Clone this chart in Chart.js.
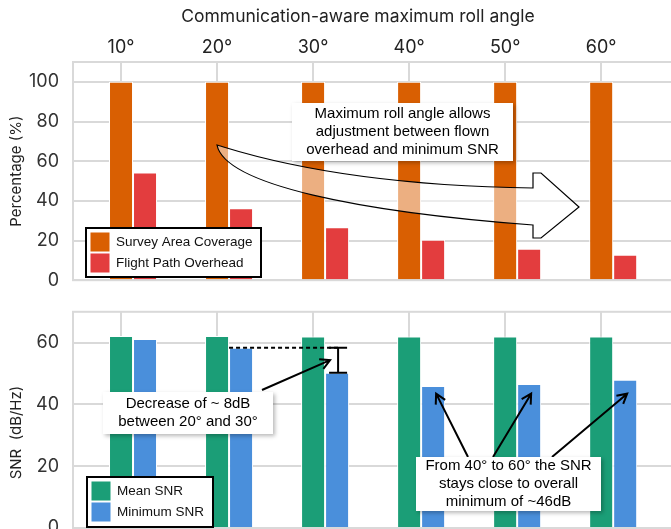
<!DOCTYPE html>
<html>
<head>
<meta charset="utf-8">
<script src="https://cdn.jsdelivr.net/npm/chart.js@4.4.1/dist/chart.umd.min.js"></script>
<style>
  html, body { margin: 0; padding: 0; background: #fff; overflow: hidden; }
  .panel { position: absolute; left: 0; width: 678px; }
  #top { top: 0; height: 305px; }
  #bottom { top: 287px; height: 270px; }
</style>
</head>
<body>
<div class="panel" id="top"><canvas id="coverageChart"></canvas></div>
<div class="panel" id="bottom"><canvas id="snrChart"></canvas></div>
<script>
// values
const rollAngles = [10, 20, 30, 40, 50, 60];
const surveyCoverage = [100, 100, 100, 100, 100, 100];
const flightOverhead = [54.3, 36.3, 26.7, 20.4, 15.9, 12.8];
const meanSnr = [62.2, 62.2, 62.0, 62.0, 62.0, 62.0];
const minSnr = [61.2, 58.4, 50.3, 46.0, 46.6, 48.0];
const percentTicks = [0, 20, 40, 60, 80, 100];
const snrTicks = [0, 20, 40, 60];

const ORANGE = '#D95F02';
const RED = '#E33D3E';
const GREEN = '#1B9E77';
const BLUE = '#4A8FDB';
const GRID = '#d9d9d9';
const NOTE_FONT = '15px "Liberation Sans", Arial, sans-serif';

Chart.defaults.font.family = 'Inter, "Noto Sans", sans-serif';
Chart.defaults.animation = false;

function points(values) {
    return rollAngles.map((a, i) => ({ x: a, y: values === null ? null : values[i] }));
}

function barSet(label, values, color) {
    return {
        label: label,
        data: points(values),
        backgroundColor: color,
        borderColor: '#fff',
        borderWidth: 1,
        categoryPercentage: 0.75,
        barPercentage: 1.0
    };
}

// empty slot on the left so the first series sits on the tick
function spacerSet() {
    return { label: '', data: points(null), backgroundColor: 'rgba(0,0,0,0)', categoryPercentage: 0.75, barPercentage: 1.0 };
}

function xAxis(position, showLabels) {
    return {
        type: 'linear',
        position: position,
        min: 5,
        max: 68,
        offset: false,
        grid: { color: GRID, lineWidth: 2, drawTicks: false, offset: false },
        border: { display: false },
        afterBuildTicks: (s) => { s.ticks = rollAngles.map(v => ({ value: v })); },
        afterFit: (s) => { s.height = showLabels ? 62 : 0; },
        ticks: {
            display: showLabels,
            padding: 4,
            color: '#222',
            font: { size: 18 },
            callback: (v) => v + '°'
        }
    };
}

function yAxis(max, tickList, titleText) {
    return {
        min: 0,
        max: max,
        grid: { color: GRID, lineWidth: 2, drawTicks: false },
        border: { display: false },
        afterBuildTicks: (s) => { s.ticks = tickList.map(v => ({ value: v })); },
        afterFit: (s) => { s.width = 73; },
        ticks: { padding: 14, color: '#333', font: { size: 18 } },
        title: { display: true, text: titleText, color: '#222', font: { size: 15 }, padding: { top: 7, bottom: 0 } }
    };
}

// plot frame
const frame = {
    id: 'frame',
    beforeDatasetsDraw(chart) {
        const a = chart.chartArea;
        const ctx = chart.ctx;
        ctx.save();
        ctx.strokeStyle = GRID;
        ctx.lineWidth = 2;
        ctx.strokeRect(a.left, a.top, a.right - a.left, a.bottom - a.top);
        ctx.restore();
    }
};

// axis heading above the top tick labels
const headline = {
    id: 'headline',
    afterDraw(chart, args, opts) {
        const ctx = chart.ctx;
        ctx.save();
        ctx.fillStyle = '#222';
        ctx.font = '17.5px Inter, "Noto Sans", sans-serif';
        ctx.textAlign = 'center';
        ctx.textBaseline = 'middle';
        ctx.fillText(opts.text, opts.x, opts.y);
        ctx.restore();
    }
};

// legend with black box, inside the plot
const boxLegend = {
    id: 'boxLegend',
    afterDraw(chart, args, opts) {
        const ctx = chart.ctx;
        const items = chart.data.datasets.filter(d => d.label);
        ctx.save();
        ctx.fillStyle = '#fff';
        ctx.fillRect(opts.x, opts.y, opts.w, opts.h);
        ctx.strokeStyle = '#000';
        ctx.lineWidth = 2;
        ctx.strokeRect(opts.x, opts.y, opts.w, opts.h);
        ctx.font = '13.5px "Liberation Sans", Arial, sans-serif';
        ctx.textBaseline = 'middle';
        items.forEach((d, i) => {
            const y = opts.y + 4.5 + i * 21;
            ctx.fillStyle = d.backgroundColor;
            ctx.fillRect(opts.x + 4.5, y, 19, 19);
            ctx.fillStyle = '#111';
            ctx.fillText(d.label, opts.x + 30, y + 10);
        });
        ctx.restore();
    }
};

function noteBox(ctx, x, y, w, h, lines, lineGap) {
    ctx.save();
    ctx.shadowColor = 'rgba(0,0,0,0.28)';
    ctx.shadowBlur = 4;
    ctx.shadowOffsetX = 1.5;
    ctx.shadowOffsetY = 2;
    ctx.fillStyle = '#fff';
    ctx.fillRect(x, y, w, h);
    ctx.restore();
    ctx.save();
    ctx.fillStyle = '#000';
    ctx.font = NOTE_FONT;
    ctx.textAlign = 'center';
    ctx.textBaseline = 'middle';
    const top = y + h / 2 - (lines.length - 1) * lineGap / 2;
    lines.forEach((t, i) => ctx.fillText(t, x + w / 2, top + i * lineGap));
    ctx.restore();
}

function arrow(ctx, x1, y1, x2, y2) {
    const ang = Math.atan2(y2 - y1, x2 - x1);
    const len = 11, spread = 0.5;
    ctx.beginPath();
    ctx.moveTo(x1, y1);
    ctx.lineTo(x2, y2);
    ctx.moveTo(x2 - len * Math.cos(ang - spread), y2 - len * Math.sin(ang - spread));
    ctx.lineTo(x2, y2);
    ctx.lineTo(x2 - len * Math.cos(ang + spread), y2 - len * Math.sin(ang + spread));
    ctx.stroke();
}

// curved arrow + note on the top panel
const rollNote = {
    id: 'rollNote',
    afterDatasetsDraw(chart) {
        const ctx = chart.ctx;
        ctx.save();
        ctx.beginPath();
        ctx.moveTo(217, 145);
        ctx.bezierCurveTo(235, 150, 330, 185, 533, 188);
        ctx.lineTo(533, 173);
        ctx.lineTo(541, 173);
        ctx.lineTo(579, 207);
        ctx.lineTo(541, 238);
        ctx.lineTo(533, 238);
        ctx.lineTo(533, 225);
        ctx.bezierCurveTo(360, 212, 225, 185, 217, 145);
        ctx.closePath();
        ctx.fillStyle = 'rgba(255,255,255,0.5)';
        ctx.fill();
        ctx.strokeStyle = '#000';
        ctx.lineWidth = 1.2;
        ctx.stroke();
        ctx.restore();
        noteBox(ctx, 292, 103, 221, 58,
            ['Maximum roll angle allows', 'adjustment between flown', 'overhead and minimum SNR'], 18);
    }
};

// notes on the SNR panel (canvas starts 287px down the page)
const snrNote = {
    id: 'snrNote',
    afterDatasetsDraw(chart) {
        const ctx = chart.ctx;
        const yS = chart.scales.y;
        const minBars = chart.getDatasetMeta(2).data;
        const yA = yS.getPixelForValue(minSnr[1]);
        const yB = yS.getPixelForValue(minSnr[2]);
        const xI = minBars[2].x + 1;
        ctx.save();
        ctx.strokeStyle = '#000';
        ctx.lineWidth = 2;
        ctx.setLineDash([4, 3]);
        ctx.beginPath();
        ctx.moveTo(minBars[1].x - minBars[1].width / 2, yA);
        ctx.lineTo(xI, yA);
        ctx.stroke();
        ctx.setLineDash([]);
        ctx.beginPath();
        ctx.moveTo(xI, yA); ctx.lineTo(xI, yB);
        ctx.moveTo(xI - 9, yA); ctx.lineTo(xI + 9, yA);
        ctx.moveTo(xI - 9, yB); ctx.lineTo(xI + 9, yB);
        ctx.stroke();
        arrow(ctx, 262, 103, xI - 8, (yA + yB) / 2);

        const tipY = yS.getPixelForValue(43.5);
        arrow(ctx, 468, 170, minBars[3].x + 3, tipY);
        arrow(ctx, 493, 170, minBars[4].x + 2, tipY);
        arrow(ctx, 552, 170, minBars[5].x + 2, tipY);
        ctx.restore();

        noteBox(ctx, 103, 105, 170, 42, ['Decrease of ~ 8dB', 'between 20° and 30°'], 18.5);
        noteBox(ctx, 416, 170, 185, 54,
            ['From 40° to 60° the SNR', 'stays close to overall', 'minimum of ~46dB'], 17.8);
    }
};

new Chart(document.getElementById('coverageChart'), {
    type: 'bar',
    data: {
        datasets: [
            spacerSet(),
            barSet('Survey Area Coverage', surveyCoverage, ORANGE),
            barSet('Flight Path Overhead', flightOverhead, RED)
        ]
    },
    options: {
        responsive: true,
        maintainAspectRatio: false,
        layout: { padding: { top: 0, left: 0, right: 0, bottom: 10 } },
        scales: { x: xAxis('top', true), y: yAxis(110, percentTicks, 'Percentage (%)') },
        plugins: {
            legend: { display: false },
            tooltip: { enabled: false },
            headline: { text: 'Communication-aware maximum roll angle', x: 358, y: 17 },
            boxLegend: { x: 86, y: 228, w: 175, h: 49 }
        }
    },
    plugins: [frame, rollNote, headline, boxLegend]
});

new Chart(document.getElementById('snrChart'), {
    type: 'bar',
    data: {
        datasets: [
            spacerSet(),
            barSet('Mean SNR', meanSnr, GREEN),
            barSet('Minimum SNR', minSnr, BLUE)
        ]
    },
    options: {
        responsive: true,
        maintainAspectRatio: false,
        layout: { padding: { top: 17, left: 0, right: 0, bottom: 29 } },
        scales: { x: xAxis('bottom', false), y: yAxis(70, snrTicks, 'SNR  (dB/Hz)      ') },
        plugins: {
            legend: { display: false },
            tooltip: { enabled: false },
            boxLegend: { x: 87, y: 190, w: 126, h: 50 }
        }
    },
    plugins: [frame, snrNote, boxLegend]
});
</script>
</body>
</html>
